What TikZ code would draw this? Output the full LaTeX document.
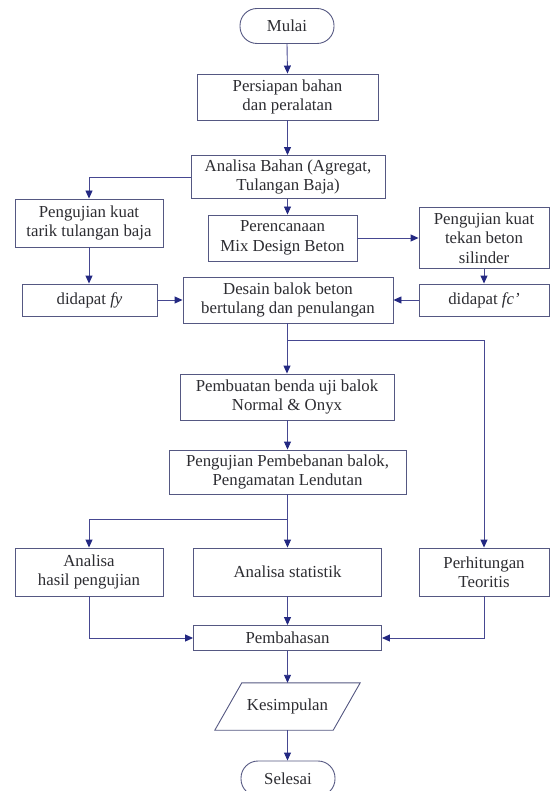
\documentclass[tikz,border=0pt]{standalone}
\usepackage{fontspec}
\setmainfont{Liberation Serif}
\usetikzlibrary{arrows.meta,calc}
\definecolor{txt}{RGB}{45,45,50}
\definecolor{boxc}{RGB}{85,88,130}
\definecolor{linec}{RGB}{70,72,145}
\definecolor{tipc}{RGB}{35,40,130}
\begin{document}
\begin{tikzpicture}[x=1pt,y=-1pt,
  every node/.style={font=\fontsize{16.8}{19.5}\selectfont, text=txt},
  fbox/.style={draw=boxc, line width=0.9pt, inner sep=0pt, align=center, fill=white},
  term/.style={fbox, rounded corners=17pt},
  arr/.style={draw=linec, line width=0.9pt, -{Triangle[length=8pt,width=7pt,color=tipc]}},
  ln/.style={draw=linec, line width=0.9pt}]
\useasboundingbox (0,0) rectangle (550,791);
% nodes
\node[term, minimum width=94pt, minimum height=35pt] (mulai) at (287,26) {Mulai};
\node[fbox, minimum width=181pt, minimum height=46pt] (persiapan) at (287.5,97) {Persiapan bahan\\dan peralatan};
\node[fbox, minimum width=194pt, minimum height=43pt] (analisa) at (288,177) {Analisa Bahan (Agregat,\\Tulangan Baja)};
\node[fbox, minimum width=148pt, minimum height=48pt] (tarik) at (89,223) {Pengujian kuat\\tarik tulangan baja};
\node[fbox, minimum width=149pt, minimum height=46pt] (perenc) at (282.5,238) {Perencanaan\\Mix Design Beton};
\node[fbox, minimum width=130pt, minimum height=61pt] (tekan) at (484,238) {Pengujian kuat\\tekan beton\\silinder};
\node[fbox, minimum width=135pt, minimum height=32pt] (fy) at (89.5,300) {didapat \textit{fy}};
\node[fbox, minimum width=130pt, minimum height=32pt] (fc) at (484,300) {didapat \textit{fc’}};
\node[fbox, minimum width=210pt, minimum height=46pt] (desain) at (288,300) {Desain balok beton\\bertulang dan penulangan};
\node[fbox, minimum width=214pt, minimum height=46pt] (pembuatan) at (287,397) {Pembuatan benda uji balok\\Normal \& Onyx};
\node[fbox, minimum width=237pt, minimum height=44pt] (pembebanan) at (287.5,472) {Pengujian Pembebanan balok,\\Pengamatan Lendutan};
\node[fbox, minimum width=148pt, minimum height=48pt] (hasil) at (89,572) {Analisa\\hasil pengujian};
\node[fbox, minimum width=188pt, minimum height=48pt] (statistik) at (287.5,572) {Analisa statistik};
\node[fbox, minimum width=130pt, minimum height=48pt] (hitung) at (484,572) {Perhitungan\\Teoritis};
\node[fbox, minimum width=188pt, minimum height=25pt] (bahas) at (287.5,638) {Pembahasan};
\node[inner sep=0pt, minimum width=145pt, minimum height=47pt] (kes) at (287.5,706.5) {};
\draw[draw=boxc, line width=0.9pt, fill=white]
  ([xshift=27pt]kes.north west) -- (kes.north east) -- ([xshift=-27pt]kes.south east) -- (kes.south west) -- cycle;
\node at (kes.center) {Kesimpulan};
\node[term, minimum width=94pt, minimum height=35pt] (selesai) at (288,778.5) {Selesai};
% connectors
\coordinate (b1) at (287,340);
\coordinate (b2) at (287.5,519);
\draw[arr] (mulai.south) -- (persiapan.north);
\draw[arr] (persiapan.south) -- (analisa.north -| persiapan.south);
\draw[arr] (analisa.west) -| (tarik.north);
\draw[arr] (analisa.south -| persiapan.south) -- (perenc.north -| persiapan.south);
\draw[arr] (perenc.east) -- (perenc.east -| tekan.west);
\draw[arr] (tarik.south) -- (fy.north -| tarik.south);
\draw[arr] (tekan.south) -- (fc.north);
\draw[arr] (fy.east) -- (fy.east -| desain.west);
\draw[arr] (fc.west) -- (fc.west -| desain.east);
\draw[arr] (desain.south -| b1) -- (pembuatan.north -| b1);
\draw[arr] (b1) -| (hitung.north);
\draw[arr] (pembuatan.south -| b2) -- (pembebanan.north -| b2);
\draw[ln] (pembebanan.south -| b2) -- (b2);
\draw[arr] (b2) -- (statistik.north -| b2);
\draw[arr] (b2) -| (hasil.north);
\draw[arr] (hasil.south) |- (bahas.west);
\draw[arr] (hitung.south) |- (bahas.east);
\draw[arr] (statistik.south) -- (bahas.north);
\draw[arr] (bahas.south) -- (kes.north -| bahas.south);
\draw[arr] (kes.south -| bahas.south) -- (selesai.north -| bahas.south);
\end{tikzpicture}
\end{document}
